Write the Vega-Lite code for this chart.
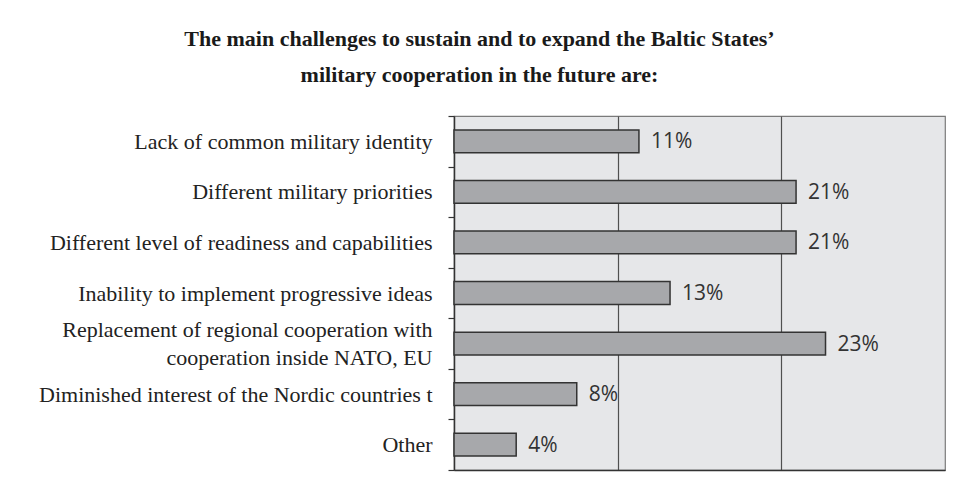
{
  "$schema": "https://vega.github.io/schema/vega-lite/v6.json",
  "width": 491,
  "height": 354,
  "autosize": "none",
  "padding": {"left": 454, "top": 116, "right": 14, "bottom": 19},
  "background": "white",
  "title": {
    "text": ["The main challenges to sustain and to expand the Baltic States’", "military cooperation in the future are:"],
    "font": "Liberation Serif",
    "fontSize": 22,
    "fontWeight": "bold",
    "color": "#1a1a1a",
    "anchor": "middle",
    "frame": "group",
    "dx": -220,
    "lineHeight": 36,
    "offset": 18
  },
  "data": {
    "values": [
      {"challenge": "Lack of common military identity", "pct": 11.3, "label": "11%"},
      {"challenge": "Different military priorities", "pct": 20.9, "label": "21%"},
      {"challenge": "Different level of readiness and capabilities", "pct": 20.9, "label": "21%"},
      {"challenge": "Inability to implement progressive ideas", "pct": 13.2, "label": "13%"},
      {"challenge": "Replacement of regional cooperation with cooperation inside NATO, EU", "pct": 22.7, "label": "23%"},
      {"challenge": "Diminished interest of the Nordic countries t", "pct": 7.5, "label": "8%"},
      {"challenge": "Other", "pct": 3.8, "label": "4%"}
    ]
  },
  "config": {
    "view": {"fill": "#e6e7e9", "stroke": "#7a7a7a", "strokeWidth": 1.2}
  },
  "encoding": {
    "y": {
      "field": "challenge",
      "type": "nominal",
      "sort": null,
      "scale": {"paddingInner": 0, "paddingOuter": 0},
      "axis": {
        "title": null,
        "domain": true,
        "domainColor": "#333333",
        "domainWidth": 1.5,
        "ticks": true,
        "tickBand": "extent",
        "tickSize": 6,
        "tickColor": "#333333",
        "tickWidth": 1.2,
        "labelFont": "Liberation Serif",
        "labelFontSize": 22,
        "labelColor": "#222222",
        "labelPadding": 16,
        "labelLimit": 0,
        "labelLineHeight": 28,
        "labelOffset": {"condition": {"test": "datum.value == 'Replacement of regional cooperation with cooperation inside NATO, EU'", "value": -14}, "value": 0},
        "labelExpr": "datum.value == 'Replacement of regional cooperation with cooperation inside NATO, EU' ? ['Replacement of regional cooperation with', 'cooperation inside NATO, EU'] : datum.value"
      }
    },
    "x": {
      "field": "pct",
      "type": "quantitative",
      "scale": {"domain": [0, 30], "nice": false},
      "axis": {
        "title": null,
        "labels": false,
        "ticks": false,
        "domain": true,
        "domainColor": "#333333",
        "domainWidth": 1.5,
        "grid": true,
        "values": [10, 20],
        "gridColor": "#505050",
        "gridWidth": 1.2
      }
    }
  },
  "layer": [
    {
      "mark": {"type": "bar", "height": {"band": 0.45}, "fill": "#a7a8ab", "stroke": "#333333", "strokeWidth": 1.5}
    },
    {
      "mark": {"type": "text", "align": "left", "baseline": "middle", "dx": 12, "dy": 1, "font": "Open Sans", "fontSize": 21, "color": "#333333"},
      "encoding": {"text": {"field": "label"}}
    }
  ]
}
